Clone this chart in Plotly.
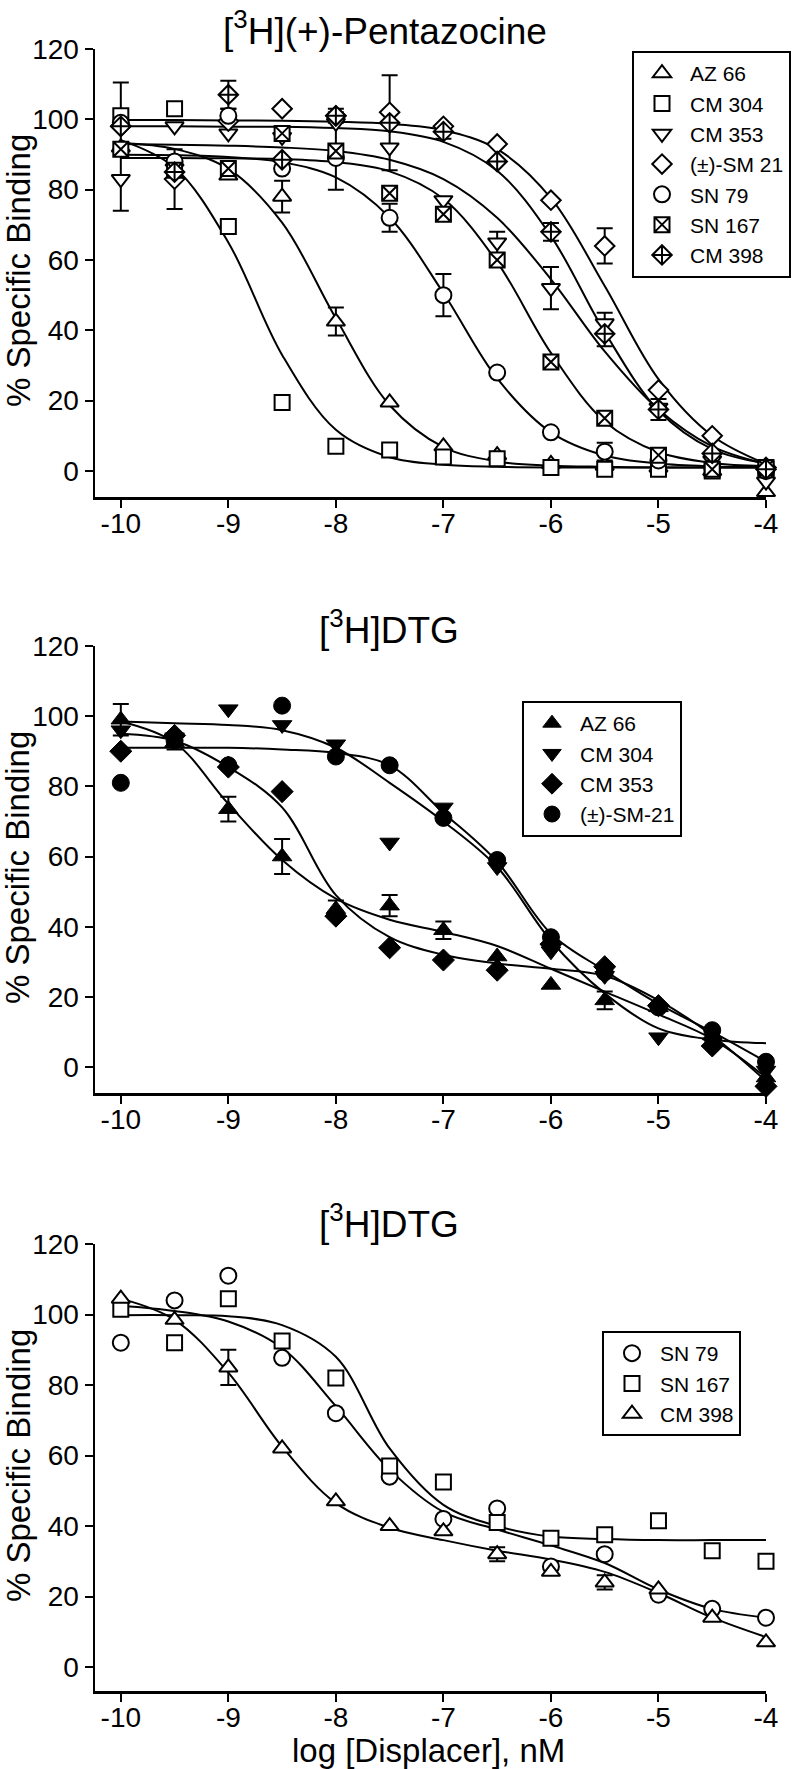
import plotly.graph_objects as go

W, H = 797, 1769

# ---------------- shared axes data ----------------
LOG_X = [-10, -9.5, -9, -8.5, -8, -7.5, -7, -6.5, -6, -5.5, -5, -4.5, -4]
X_TICKS = [-10, -9, -8, -7, -6, -5, -4]
X_TICK_TEXT = ["-10", "-9", "-8", "-7", "-6", "-5", "-4"]
Y_TICKS = [0, 20, 40, 60, 80, 100, 120]
Y_TICK_TEXT = ["0", "20", "40", "60", "80", "100", "120"]

PANEL_TITLES = ["[<sup>3</sup>H](+)-Pentazocine", "[<sup>3</sup>H]DTG", "[<sup>3</sup>H]DTG"]
Y_TITLE = "% Specific Binding"
X_TITLE = "log [Displacer], nM"

# ---------------- panel A : [3H](+)-Pentazocine ----------------
A_NAMES = ["AZ 66", "CM 304", "CM 353", "(±)-SM 21", "SN 79", "SN 167", "CM 398"]
A_AZ66 = [92, 88, 84, 78, 42.5, 19.5, 7, 4.5, 2, 1.5, 1, 0, -6]
A_AZ66_ERR = [None, None, None, 4.5, 4, None, None, None, None, None, None, None, None]
A_AZ66_FIT = [93.3, 91.6, 85.9, 70.6, 43.4, 18.7, 6.8, 2.7, 1.5, 1.2, 1.0, 1.0, 1.0]
A_CM304 = [101, 103, 69.5, 19.5, 7, 6, 4, 3.5, 1, 0.5, 0.5, 0, 0.5]
A_CM304_ERR = [9.5, None, None, None, None, None, None, None, None, None, None, None, None]
A_CM304_FIT = [94.1, 86.3, 65, 33, 11.7, 3.9, 1.8, 1.2, 1.0, 1.0, 1.0, 1.0, 1.0]
A_CM353 = [83, 98, 96, 95, 99, 92, 77, 65, 52, 42, 18, 3, -3]
A_CM353_ERR = [9, None, None, None, None, None, None, 3, 6, 3, None, None, None]
A_CM353_FIT = [93, 92.8, 92.5, 92, 91, 88.5, 83, 72, 54.5, 34, 17.5, 7, 2]
A_SM21 = [98, 83, 99.5, 103, 101, 102, 98, 93, 77, 64, 23, 10, 1]
A_SM21_ERR = [None, 8.5, None, None, None, None, None, None, None, 5, None, None, None]
A_SM21_FIT = [99.8, 99.8, 99.7, 99.6, 99.3, 98.7, 96.9, 91.5, 77.6, 52.6, 26.1, 10, 2]
A_SN79 = [99, 88, 101, 86, 89, 72, 50, 28, 11, 5.5, 3, 1, 0]
A_SN79_ERR = [None, None, 2, None, None, 4, 6, None, None, 2.5, None, None, None]
A_SN79_FIT = [89.9, 89.8, 89.3, 87.8, 83.5, 72.1, 50.6, 26.3, 11, 4.4, 2.1, 1.3, 1.1]
A_SN167 = [91.5, 85.5, 86, 96, 91, 79, 73, 60, 31, 15, 4.5, 0.5, 1]
A_SN167_ERR = [None, None, None, None, 11, None, None, None, None, None, None, None, None]
A_SN167_FIT = [89, 89, 88.9, 88.7, 87.8, 85.2, 77.4, 59.4, 33.6, 14.1, 5.4, 2.3, 1.4]
A_CM398 = [98, 85, 107, 88.5, 101, 99, 96.5, 88, 68, 39, 17.5, 5, 0.5]
A_CM398_ERR = [None, None, 4, None, 2, 13.5, 2, None, 2.5, 3.5, 3, None, None]
A_CM398_FIT = [98, 98, 97.9, 97.9, 97.5, 96.6, 93.6, 85.4, 66.8, 39.5, 17.2, 6.2, 2.1]

# ---------------- panel B : [3H]DTG (filled symbols) ----------------
B_NAMES = ["AZ 66", "CM 304", "CM 353", "(±)-SM-21"]
B_AZ66 = [99, 92.5, 73.5, 60, 45, 46, 39, 31.5, 23.4, 19, 17, 9, -3]
B_AZ66_ERR = [4.5, 2, 3.5, 5, 2.5, 3, 2.5, None, None, 2.5, None, None, None]
B_AZ66_FIT = [98.5, 92.5, 75, 59, 48, 42, 38.5, 34.5, 28, 21.5, 15, 8, -3]
B_CM304 = [96, 94, 102, 97.5, 92, 64, 74, 57, 33, 26, 8.5, 7, -1]
B_CM304_FIT = [98.5, 98, 97.5, 96, 91, 81, 70, 57, 36, 21, 11, 7.8, 6.8]
B_CM353 = [90, 94.5, 85.5, 78.5, 43, 34, 30.5, 27.6, 35, 28.6, 17.5, 6, -5.5]
B_CM353_FIT = [95, 93, 85.5, 74, 49, 37, 32, 29.5, 28, 26, 19, 9, -4]
B_SM21 = [81, 93, 86, 103, 88.5, 86, 71, 59, 37, 27, 17, 10.5, 1.5]
B_SM21_FIT = [91, 91, 91, 90.5, 89.5, 86, 72.5, 58.5, 38, 27.5, 18, 10, 1.5]

# ---------------- panel C : [3H]DTG (open symbols) ----------------
C_NAMES = ["SN 79", "SN 167", "CM 398"]
C_SN79 = [92, 104, 111, 87.7, 72, 54, 42, 45, 28.5, 32, 20.5, 16.5, 14]
C_SN79_FIT = [102.5, 101, 98, 90.5, 74, 56, 44, 39, 34.5, 29.5, 22, 16.5, 14]
C_SN167 = [101.5, 92, 104.5, 92.5, 82, 57, 52.5, 41, 36.5, 37.5, 41.5, 33, 30]
C_SN167_FIT = [99.8, 99.8, 99.5, 97, 88, 62, 46, 40, 37, 36.3, 36, 36, 36]
C_CM398 = [104.5, 98.5, 85, 62, 47, 40, 38.5, 32, 27, 24, 22, 14, 7]
C_CM398_ERR = [None, None, 5, None, None, None, None, 2, None, 2, None, None, None]
C_CM398_FIT = [104.5, 98.5, 83.5, 62.5, 46.5, 39.5, 36, 33, 30.5, 27, 21, 14, 8.5]

# ---------------- styling ----------------
FONT = "Liberation Sans, Arial, Helvetica, sans-serif"
OPEN_SIZES = {"triangle-up": 16, "triangle-down": 16, "square": 15, "circle": 16,
              "diamond": 15, "square-x": 15, "diamond-cross": 15}

PANELS = [
    dict(ax="", leg="legend", series=[
        (A_NAMES[0], A_AZ66, A_AZ66_ERR, A_AZ66_FIT, "triangle-up", False),
        (A_NAMES[1], A_CM304, A_CM304_ERR, A_CM304_FIT, "square", False),
        (A_NAMES[2], A_CM353, A_CM353_ERR, A_CM353_FIT, "triangle-down", False),
        (A_NAMES[3], A_SM21, A_SM21_ERR, A_SM21_FIT, "diamond", False),
        (A_NAMES[4], A_SN79, A_SN79_ERR, A_SN79_FIT, "circle", False),
        (A_NAMES[5], A_SN167, A_SN167_ERR, A_SN167_FIT, "square-x", False),
        (A_NAMES[6], A_CM398, A_CM398_ERR, A_CM398_FIT, "diamond-cross", False),
    ]),
    dict(ax="2", leg="legend2", series=[
        (B_NAMES[0], B_AZ66, B_AZ66_ERR, B_AZ66_FIT, "triangle-up", True),
        (B_NAMES[1], B_CM304, None, B_CM304_FIT, "triangle-down", True),
        (B_NAMES[2], B_CM353, None, B_CM353_FIT, "diamond", True),
        (B_NAMES[3], B_SM21, None, B_SM21_FIT, "circle", True),
    ]),
    dict(ax="3", leg="legend3", series=[
        (C_NAMES[0], C_SN79, None, C_SN79_FIT, "circle", False),
        (C_NAMES[1], C_SN167, None, C_SN167_FIT, "square", False),
        (C_NAMES[2], C_CM398, C_CM398_ERR, C_CM398_FIT, "triangle-up", False),
    ]),
]

fig = go.Figure()

for p in PANELS:
    xa, ya = "x" + p["ax"], "y" + p["ax"]
    # fitted curves
    for name, pts, err, fit, sym, filled in p["series"]:
        fig.add_trace(go.Scatter(
            x=LOG_X, y=fit, mode="lines", line=dict(color="black", width=2, shape="spline"),
            xaxis=xa, yaxis=ya, showlegend=False, hoverinfo="skip", cliponaxis=False))
    # error bars (only where present)
    for name, pts, err, fit, sym, filled in p["series"]:
        if err is None:
            continue
        ex = [x for x, e in zip(LOG_X, err) if e is not None]
        ey = [y for y, e in zip(pts, err) if e is not None]
        ee = [e for e in err if e is not None]
        fig.add_trace(go.Scatter(
            x=ex, y=ey, mode="markers", marker=dict(size=1, color="rgba(0,0,0,0)"),
            error_y=dict(type="data", array=ee, visible=True, color="black", thickness=2, width=8),
            xaxis=xa, yaxis=ya, showlegend=False, hoverinfo="skip", cliponaxis=False))
    # data markers
    for name, pts, err, fit, sym, filled in p["series"]:
        if filled:
            marker = dict(symbol=sym, size=17, color="black", line=dict(color="black", width=1))
        else:
            marker = dict(symbol=sym, size=OPEN_SIZES[sym], color="white",
                          line=dict(color="black", width=2))
        fig.add_trace(go.Scatter(
            x=LOG_X, y=pts, mode="markers", name=name, marker=marker,
            xaxis=xa, yaxis=ya, legend=p["leg"], legendgroup=p["leg"] + name,
            cliponaxis=False))

X_DOM = [95 / W, 766 / W]
Y_DOMS = [
    [1 - 497 / H, 1 - 49 / H],
    [1 - 1093 / H, 1 - 646 / H],
    [1 - 1691 / H, 1 - 1244 / H],
]
Y_RANGES = [[-7.4, 120], [-7.4, 120], [-6.8, 120]]

axis_common = dict(showline=True, linewidth=2.5, linecolor="black", ticks="outside",
                   ticklen=8, tickwidth=2, tickcolor="black", showgrid=False,
                   zeroline=False, automargin=False, fixedrange=True,
                   tickfont=dict(size=28, color="black", family=FONT))

layout = dict(
    width=W, height=H, margin=dict(l=0, r=0, t=0, b=0, pad=0, autoexpand=False),
    paper_bgcolor="white", plot_bgcolor="white",
    font=dict(family=FONT, color="black"),
    showlegend=True, hovermode=False,
)
for i, p in enumerate(PANELS):
    suffix = p["ax"]
    layout["xaxis" + suffix] = dict(axis_common, domain=X_DOM, range=[-10.24, -4],
                                    anchor="y" + suffix, tickmode="array",
                                    tickvals=X_TICKS, ticktext=X_TICK_TEXT,
                                    ticklabelstandoff=-8)
    layout["yaxis" + suffix] = dict(axis_common, domain=Y_DOMS[i], range=Y_RANGES[i],
                                    anchor="x" + suffix, tickmode="array",
                                    tickvals=Y_TICKS, ticktext=Y_TICK_TEXT)

legend_common = dict(xanchor="left", yanchor="top", bordercolor="black", borderwidth=2,
                     bgcolor="white", font=dict(size=21, color="black", family=FONT),
                     itemwidth=46, tracegroupgap=0)
layout["legend"] = dict(legend_common, x=632 / W, y=1 - 51 / H)
layout["legend2"] = dict(legend_common, x=522 / W, y=1 - 701 / H)
layout["legend3"] = dict(legend_common, x=602 / W, y=1 - 1331 / H)

annotations = []
title_pos = [(385, 28), (389, 627), (389, 1221)]
for t, (px, py) in zip(PANEL_TITLES, title_pos):
    annotations.append(dict(text=t, x=px / W, y=1 - py / H, xref="paper", yref="paper",
                            xanchor="center", yanchor="middle", showarrow=False,
                            font=dict(size=37, color="black", family=FONT)))
for py in [271, 868, 1466]:
    annotations.append(dict(text=Y_TITLE, x=18 / W, y=1 - py / H, xref="paper", yref="paper",
                            xanchor="center", yanchor="middle", textangle=-90, showarrow=False,
                            font=dict(size=33, color="black", family=FONT)))
annotations.append(dict(text=X_TITLE, x=429 / W, y=1 - 1750 / H, xref="paper", yref="paper",
                        xanchor="center", yanchor="middle", showarrow=False,
                        font=dict(size=33, color="black", family=FONT)))
layout["annotations"] = annotations

fig.update_layout(**layout)
fig.write_html(
    "out.html",
    config={"displayModeBar": False, "staticPlot": True},
    post_script="document.body.style.margin='0px'; document.body.style.overflow='hidden';",
)
